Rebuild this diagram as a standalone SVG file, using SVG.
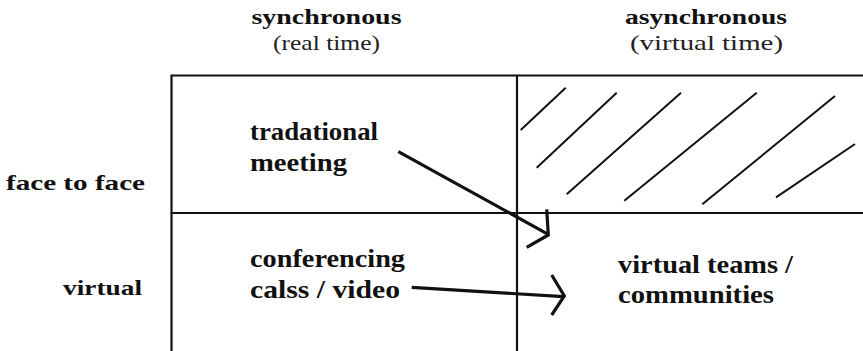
<svg xmlns="http://www.w3.org/2000/svg" width="863" height="351" viewBox="0 0 863 351">
<style>
.b{font-family:"Liberation Serif","Times New Roman",serif;font-weight:bold;fill:#111}
.r{font-family:"Liberation Serif","Times New Roman",serif;fill:#222}
.grid{stroke:#111;stroke-width:2.2;fill:none}
.hatch{stroke:#111;stroke-width:2;fill:none}
.arr{stroke:#111;stroke-width:3.2;fill:none;stroke-linecap:butt;stroke-linejoin:miter}
</style>
<rect width="863" height="351" fill="#fff"/>
<g id="headers">
<text class="b" x="251.5" y="24" font-size="21" textLength="150" lengthAdjust="spacingAndGlyphs">synchronous</text>
<text class="r" x="273" y="50" font-size="21" textLength="107" lengthAdjust="spacingAndGlyphs">(real time)</text>
<text class="b" x="625" y="24" font-size="21" textLength="162" lengthAdjust="spacingAndGlyphs">asynchronous</text>
<text class="r" x="630" y="50" font-size="21" textLength="153" lengthAdjust="spacingAndGlyphs">(virtual time)</text>
<text class="b" x="6" y="190" font-size="21" textLength="139" lengthAdjust="spacingAndGlyphs">face to face</text>
<text class="b" x="63" y="295" font-size="21" textLength="79" lengthAdjust="spacingAndGlyphs">virtual</text>
</g>
<g id="grid">
<path class="grid" d="M171.5 351 V75.5 H865 M517 75.5 V351 M171.5 213 H865"/>
</g>
<g id="hatching">
<path class="hatch" d="M565.7 87.7 L520.7 130 M616.7 92.7 L536.7 167.7 M681 92.7 L566.7 194.3 M756.7 92.7 L624.3 200.7 M835 96 L702.3 204.3 M855 144 L776 197.3"/>
</g>
<g id="node-traditional">
<text class="b" x="250" y="140" font-size="25" textLength="128" lengthAdjust="spacingAndGlyphs">tradational</text>
<text class="b" x="250" y="171" font-size="25" textLength="97" lengthAdjust="spacingAndGlyphs">meeting</text>
</g>
<g id="node-conferencing">
<text class="b" x="250" y="267" font-size="25" textLength="155" lengthAdjust="spacingAndGlyphs">conferencing</text>
<text class="b" x="250" y="298" font-size="25" textLength="150" lengthAdjust="spacingAndGlyphs">calss / video</text>
</g>
<g id="node-virtual-teams">
<text class="b" x="618" y="273" font-size="25" textLength="175" lengthAdjust="spacingAndGlyphs">virtual teams /</text>
<text class="b" x="618" y="303" font-size="25" textLength="156" lengthAdjust="spacingAndGlyphs">communities</text>
</g>
<g id="connectors">
<path class="arr" d="M398.3 151.7 L548.3 234.3"/>
<path class="arr" d="M546.7 209.3 L548.3 235 L526.7 247.3"/>
<path class="arr" d="M411.7 287.3 L563.3 296.7"/>
<path class="arr" d="M551.7 275 L564.3 296 L551.7 315"/>
</g>
</svg>
